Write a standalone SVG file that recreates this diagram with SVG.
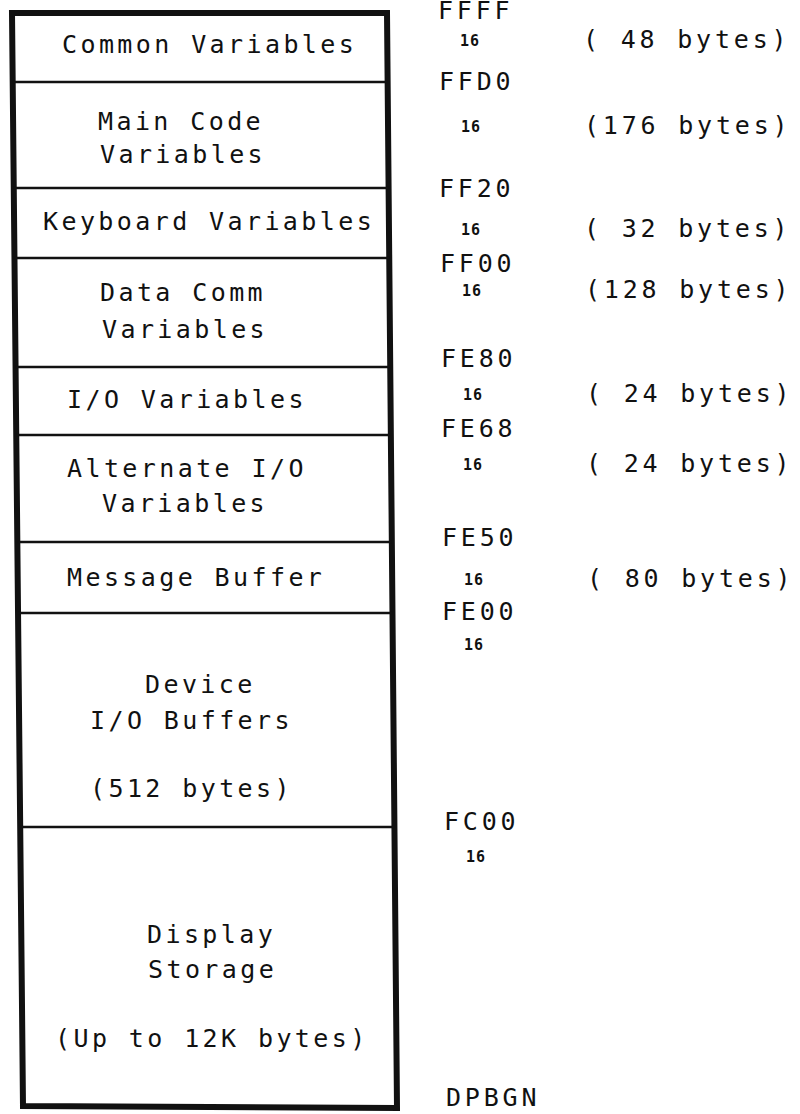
<svg xmlns="http://www.w3.org/2000/svg" width="800" height="1114" viewBox="0 0 800 1114">
<style>
.lbl{font-family:"DejaVu Sans Mono","Liberation Mono",monospace;font-size:25px;letter-spacing:3.4px;fill:#111}
.adr{font-family:"DejaVu Sans Mono","Liberation Mono",monospace;font-size:25px;letter-spacing:3.8px;fill:#111}
.sub{font-family:"DejaVu Sans Mono","Liberation Mono",monospace;font-size:15px;font-weight:bold;letter-spacing:1px;fill:#111}
.div{stroke:#111;stroke-width:2.5;fill:none}
.outer{stroke:#111;stroke-width:6;fill:#fff;stroke-linejoin:miter}
</style>
<rect width="800" height="1114" fill="#fff"/>
<g id="frame">
<polygon class="outer" points="12,13 387,13 397,1108 23,1106"/>
</g>
<g id="dividers">
<line class="div" x1="12.7" y1="82" x2="387.6" y2="82"/>
<line class="div" x1="13.8" y1="188" x2="388.6" y2="188"/>
<line class="div" x1="14.5" y1="258" x2="389.2" y2="258"/>
<line class="div" x1="15.5" y1="367" x2="390.2" y2="367"/>
<line class="div" x1="16.2" y1="435" x2="390.8" y2="435"/>
<line class="div" x1="17.3" y1="542" x2="391.8" y2="542"/>
<line class="div" x1="18" y1="613" x2="392.5" y2="613"/>
<line class="div" x1="20.1" y1="827" x2="394.4" y2="827"/>
</g>
<g id="common-variables"><text class="lbl" x="62" y="53">Common Variables</text></g>
<g id="main-code-variables"><text class="lbl" x="98" y="130">Main Code</text><text class="lbl" x="100" y="163">Variables</text></g>
<g id="keyboard-variables"><text class="lbl" x="43" y="230">Keyboard Variables</text></g>
<g id="data-comm-variables"><text class="lbl" x="100" y="301">Data Comm</text><text class="lbl" x="102" y="338">Variables</text></g>
<g id="io-variables"><text class="lbl" x="67" y="408">I/O Variables</text></g>
<g id="alternate-io-variables"><text class="lbl" x="67" y="477">Alternate I/O</text><text class="lbl" x="102" y="512">Variables</text></g>
<g id="message-buffer"><text class="lbl" x="67" y="586">Message Buffer</text></g>
<g id="device-io-buffers"><text class="lbl" x="145" y="693">Device</text><text class="lbl" x="90" y="729">I/O Buffers</text><text class="lbl" x="90" y="797">(512 bytes)</text></g>
<g id="display-storage"><text class="lbl" x="147" y="943">Display</text><text class="lbl" x="148" y="978">Storage</text><text class="lbl" x="55" y="1047">(Up to 12K bytes)</text></g>
<g id="addresses">
<text class="adr" x="438" y="19">FFFF</text>
<text class="sub" x="460" y="46">16</text><text class="adr" x="583" y="48">( 48 bytes)</text>
<text class="adr" x="439" y="90">FFD0</text>
<text class="sub" x="461" y="132">16</text><text class="adr" x="584" y="134">(176 bytes)</text>
<text class="adr" x="439" y="197">FF20</text>
<text class="sub" x="461" y="235">16</text><text class="adr" x="584" y="237">( 32 bytes)</text>
<text class="adr" x="440" y="272">FF00</text>
<text class="sub" x="462" y="296">16</text><text class="adr" x="585" y="298">(128 bytes)</text>
<text class="adr" x="441" y="367">FE80</text>
<text class="sub" x="463" y="400">16</text><text class="adr" x="586" y="402">( 24 bytes)</text>
<text class="adr" x="441" y="437">FE68</text>
<text class="sub" x="463" y="470">16</text><text class="adr" x="586" y="472">( 24 bytes)</text>
<text class="adr" x="442" y="546">FE50</text>
<text class="sub" x="464" y="585">16</text><text class="adr" x="587" y="587">( 80 bytes)</text>
<text class="adr" x="442" y="620">FE00</text>
<text class="sub" x="464" y="650">16</text>
<text class="adr" x="444" y="830">FC00</text>
<text class="sub" x="466" y="862">16</text>
<text class="adr" x="446" y="1106">DPBGN</text>
</g>
</svg>
